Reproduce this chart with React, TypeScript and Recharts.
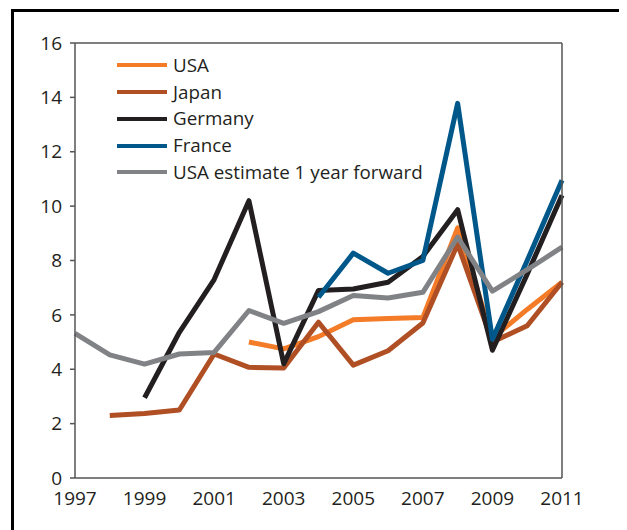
import React from "react";
import { LineChart, Line, XAxis, YAxis, ReferenceLine } from "recharts";

const years = [1997, 1998, 1999, 2000, 2001, 2002, 2003, 2004, 2005, 2006, 2007, 2008, 2009, 2010, 2011];
const usa = [null, null, null, null, null, 5.0, 4.75, 5.2, 5.82, 5.87, 5.9, 9.2, 5.15, 6.2, 7.2];
const japan = [null, 2.3, 2.37, 2.5, 4.56, 4.07, 4.05, 5.73, 4.15, 4.68, 5.7, 8.6, 5.0, 5.6, 7.2];
const germany = [null, null, 2.95, 5.36, 7.3, 10.2, 4.2, 6.9, 6.95, 7.2, 8.15, 9.87, 4.7, 7.5, 10.4];
const france = [null, null, null, null, null, null, null, 6.65, 8.27, 7.53, 8.0, 13.78, 5.1, 8.0, 10.95];
const usaEstimate = [5.32, 4.53, 4.19, 4.56, 4.62, 6.16, 5.69, 6.12, 6.71, 6.62, 6.83, 8.86, 6.87, 7.66, 8.49];

const yTicks = [0, 2, 4, 6, 8, 10, 12, 14, 16];
const xTicks = [1997, 1999, 2001, 2003, 2005, 2007, 2009, 2011];

const series = [
  { key: "usa", name: "USA", color: "#F47B27" },
  { key: "japan", name: "Japan", color: "#B04F24" },
  { key: "germany", name: "Germany", color: "#231F20" },
  { key: "france", name: "France", color: "#00578A" },
  { key: "usaEstimate", name: "USA estimate 1 year forward", color: "#808285" },
];

const data = years.map((year, i) => ({
  year,
  usa: usa[i],
  japan: japan[i],
  germany: germany[i],
  france: france[i],
  usaEstimate: usaEstimate[i],
}));

const FONT = "'Open Sans', sans-serif";
const AXIS = "#555";

function LegendBox() {
  return (
    <div
      style={{
        position: "absolute",
        left: 109,
        top: 44,
        fontFamily: FONT,
        fontSize: 18.8,
        color: "#231F20",
        lineHeight: 1,
      }}
    >
      {series.map((s) => (
        <div key={s.key} style={{ display: "flex", alignItems: "center", height: 26.75 }}>
          <div style={{ width: 50, height: 4, background: s.color, marginRight: 6 }} />
          <span>{s.name}</span>
        </div>
      ))}
    </div>
  );
}

export default function App() {
  return (
    <div style={{ position: "relative", width: 619, height: 522, overflow: "hidden" }}>
      <div
        style={{
          position: "absolute",
          left: 3,
          top: 1,
          width: 618,
          height: 560,
          border: "3px solid #000",
          boxSizing: "border-box",
        }}
      />
      <div style={{ position: "absolute", left: 0, top: 0 }}>
        <LineChart
          width={619}
          height={522}
          data={data}
          margin={{ top: 35, right: 5, bottom: 22, left: 7 }}
        >
          <XAxis
            dataKey="year"
            type="number"
            domain={[1997, 2011]}
            ticks={xTicks}
            tickLine={false}
            tickSize={6}
            tickMargin={8}
            stroke={AXIS}
            strokeWidth={1.5}
            tick={{ fill: "#231F20", fontSize: 19, fontFamily: FONT }}
            height={30}
          />
          <YAxis
            yAxisId="left"
            domain={[0, 16]}
            ticks={yTicks}
            width={60}
            tickSize={5}
            tickMargin={8}
            stroke={AXIS}
            strokeWidth={1.5}
            tick={{ fill: "#231F20", fontSize: 19, fontFamily: FONT }}
          />
          <YAxis
            yAxisId="right"
            orientation="right"
            domain={[0, 16]}
            ticks={yTicks}
            width={60}
            tickSize={5}
            tickMargin={15}
            stroke={AXIS}
            strokeWidth={1.5}
            tick={{ fill: "#231F20", fontSize: 19, fontFamily: FONT, textAnchor: "start" }}
          />
          <ReferenceLine yAxisId="left" y={16} stroke={AXIS} strokeWidth={1.5} />
          {series.map((s) => (
            <Line
              key={s.key}
              yAxisId="left"
              dataKey={s.key}
              name={s.name}
              stroke={s.color}
              strokeWidth={5}
              dot={false}
              activeDot={false}
              type="linear"
              strokeLinejoin="round"
              isAnimationActive={false}
            />
          ))}
        </LineChart>
      </div>
      <LegendBox />
    </div>
  );
}
